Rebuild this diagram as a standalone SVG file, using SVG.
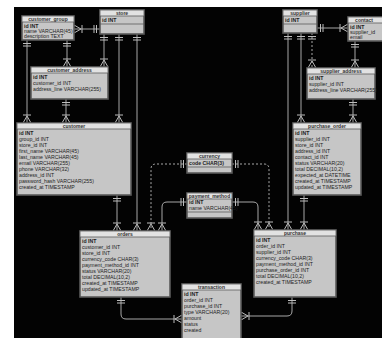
<svg xmlns="http://www.w3.org/2000/svg" width="382" height="338" viewBox="0 0 382 338">
<defs>
<style>
.tb{fill:#c6c6c6;stroke:#5a5a5a;stroke-width:1.6}
.hd{fill:#e2e2e2;stroke:#5a5a5a;stroke-width:0.8}
.tt{font-family:"Liberation Sans",Arial,sans-serif;font-size:5px;font-weight:bold;fill:#333;text-anchor:middle}
.rw{font-family:"Liberation Sans",Arial,sans-serif;font-size:5.2px;fill:#1e1e1e}
.pk{font-weight:bold}
.ln{fill:none;stroke:#a8a8a8;stroke-width:1}
.dash{stroke-dasharray:2 2}
</style>
<marker id="one" markerUnits="userSpaceOnUse" markerWidth="10" markerHeight="8" refX="10" refY="4" orient="auto-start-reverse">
<path d="M4,0V8M6.5,0V8" stroke="#bdbdbd" stroke-width="1" fill="none"/>
</marker>
<marker id="many" markerUnits="userSpaceOnUse" markerWidth="10" markerHeight="8" refX="10" refY="4" orient="auto-start-reverse">
<path d="M3,4L10,0M3,4L10,8M2,0V8" stroke="#bdbdbd" stroke-width="1" fill="none"/>
</marker>
</defs>
<rect x="0" y="0" width="382" height="338" fill="#fff"/>
<rect x="14" y="7" width="368" height="331" fill="#030303"/>

<g id="connectors">
<path class="ln" d="M74,29H100" marker-start="url(#many)" marker-end="url(#one)"/>
<path class="ln" d="M27,40V123" marker-start="url(#one)" marker-end="url(#many)"/>
<path class="ln" d="M67,40V67" marker-start="url(#one)" marker-end="url(#many)"/>
<path class="ln" d="M104,34V67" marker-start="url(#one)" marker-end="url(#many)"/>
<path class="ln" d="M119,34V123" marker-start="url(#one)" marker-end="url(#many)"/>
<path class="ln" d="M137,34V231" marker-start="url(#one)" marker-end="url(#many)"/>
<path class="ln" d="M66,99V123" marker-start="url(#one)" marker-end="url(#many)"/>
<path class="ln" d="M117,195V231" marker-start="url(#one)" marker-end="url(#many)"/>
<path class="ln dash" d="M187,164H156Q151,164 151,169V231" marker-start="url(#one)" marker-end="url(#many)"/>
<path class="ln" d="M187,202H167Q162,202 162,207V231" marker-start="url(#one)" marker-end="url(#many)"/>
<path class="ln" d="M121,297V314Q121,319 126,319H182" marker-start="url(#one)" marker-end="url(#many)"/>
<path class="ln" d="M317,28H348" marker-start="url(#one)" marker-end="url(#many)"/>
<path class="ln" d="M288,33V230" marker-start="url(#one)" marker-end="url(#many)"/>
<path class="ln" d="M301,33V123" marker-start="url(#one)" marker-end="url(#many)"/>
<path class="ln dash" d="M312,33V68" marker-start="url(#one)" marker-end="url(#many)"/>
<path class="ln" d="M355,41V68" marker-start="url(#one)" marker-end="url(#many)"/>
<path class="ln" d="M353,99V123" marker-start="url(#one)" marker-end="url(#many)"/>
<path class="ln" d="M304,195V230" marker-start="url(#one)" marker-end="url(#many)"/>
<path class="ln dash" d="M232,164H264Q269,164 269,169V230" marker-start="url(#one)" marker-end="url(#many)"/>
<path class="ln" d="M232,202H253Q258,202 258,207V230" marker-start="url(#one)" marker-end="url(#many)"/>
<path class="ln" d="M292,297V311Q292,316 287,316H241" marker-start="url(#one)" marker-end="url(#many)"/>
</g>

<g id="customer_group">
<rect class="tb" x="22" y="16" width="52" height="24"/>
<rect class="hd" x="22" y="16" width="52" height="6"/>
<text class="tt" x="48" y="20.8">customer_group</text>
<text class="rw pk" x="24" y="27.5">id INT</text>
<text class="rw" x="24" y="32.5">name VARCHAR(45)</text>
<text class="rw" x="24" y="37.5">description TEXT</text>
</g>

<g id="store">
<rect class="tb" x="100" y="10" width="44" height="24"/>
<rect class="hd" x="100" y="10" width="44" height="6"/>
<text class="tt" x="122" y="14.8">store</text>
<text class="rw pk" x="102" y="21.5">id INT</text>
<line x1="100" y1="24" x2="144" y2="24" stroke="#5a5a5a" stroke-width="0.8"/>
</g>

<g id="customer_address">
<rect class="tb" x="31" y="67" width="77" height="32"/>
<rect class="hd" x="31" y="67" width="77" height="6"/>
<text class="tt" x="69.5" y="71.8">customer_address</text>
<text class="rw pk" x="33" y="79">id INT</text>
<text class="rw" x="33" y="85">customer_id INT</text>
<text class="rw" x="33" y="91">address_line VARCHAR(255)</text>
</g>

<g id="customer">
<rect class="tb" x="17" y="123" width="114" height="72"/>
<rect class="hd" x="17" y="123" width="114" height="6"/>
<text class="tt" x="74" y="127.8">customer</text>
<text class="rw pk" x="19" y="135">id INT</text>
<text class="rw" x="19" y="141">group_id INT</text>
<text class="rw" x="19" y="147">store_id INT</text>
<text class="rw" x="19" y="153">first_name VARCHAR(45)</text>
<text class="rw" x="19" y="159">last_name VARCHAR(45)</text>
<text class="rw" x="19" y="165">email VARCHAR(255)</text>
<text class="rw" x="19" y="171">phone VARCHAR(32)</text>
<text class="rw" x="19" y="177">address_id INT</text>
<text class="rw" x="19" y="183">password_hash VARCHAR(255)</text>
<text class="rw" x="19" y="189">created_at TIMESTAMP</text>
</g>

<g id="currency">
<rect class="tb" x="187" y="153" width="45" height="20"/>
<rect class="hd" x="187" y="153" width="45" height="6"/>
<text class="tt" x="209.5" y="157.8">currency</text>
<text class="rw pk" x="189" y="164.5">code CHAR(3)</text>
<line x1="187" y1="167" x2="232" y2="167" stroke="#5a5a5a" stroke-width="0.8"/>
</g>

<g id="payment_method">
<rect class="tb" x="187" y="193" width="45" height="25"/>
<rect class="hd" x="187" y="193" width="45" height="6"/>
<text class="tt" x="209.5" y="197.8">payment_method</text>
<text class="rw pk" x="189" y="204">id INT</text>
<text class="rw" x="189" y="209.5">name VARCHAR(45)</text>
<line x1="187" y1="212" x2="232" y2="212" stroke="#5a5a5a" stroke-width="0.8"/>
</g>

<g id="orders">
<rect class="tb" x="80" y="231" width="90" height="66"/>
<rect class="hd" x="80" y="231" width="90" height="6"/>
<text class="tt" x="125" y="235.8">orders</text>
<text class="rw pk" x="82" y="243">id INT</text>
<text class="rw" x="82" y="249">customer_id INT</text>
<text class="rw" x="82" y="255">store_id INT</text>
<text class="rw" x="82" y="261">currency_code CHAR(3)</text>
<text class="rw" x="82" y="267">payment_method_id INT</text>
<text class="rw" x="82" y="273">status VARCHAR(20)</text>
<text class="rw" x="82" y="279">total DECIMAL(10,2)</text>
<text class="rw" x="82" y="285">created_at TIMESTAMP</text>
<text class="rw" x="82" y="291">updated_at TIMESTAMP</text>
</g>

<g id="transaction">
<rect class="tb" x="182" y="284" width="59" height="58"/>
<rect class="hd" x="182" y="284" width="59" height="6"/>
<text class="tt" x="211.5" y="288.8">transaction</text>
<text class="rw pk" x="184" y="296">id INT</text>
<text class="rw" x="184" y="302">order_id INT</text>
<text class="rw" x="184" y="308">purchase_id INT</text>
<text class="rw" x="184" y="314">type VARCHAR(20)</text>
<text class="rw" x="184" y="320">amount</text>
<text class="rw" x="184" y="326">status</text>
<text class="rw" x="184" y="332">created</text>
</g>

<g id="supplier">
<rect class="tb" x="283" y="10" width="34" height="23"/>
<rect class="hd" x="283" y="10" width="34" height="6"/>
<text class="tt" x="300" y="14.8">supplier</text>
<text class="rw pk" x="285" y="21.5">id INT</text>
<line x1="283" y1="24" x2="317" y2="24" stroke="#5a5a5a" stroke-width="0.8"/>
</g>

<g id="supplier_contact">
<rect class="tb" x="348" y="17" width="38" height="24"/>
<rect class="hd" x="348" y="17" width="38" height="6"/>
<text class="tt" x="364" y="21.8">contact</text>
<text class="rw pk" x="350" y="28.5">id INT</text>
<text class="rw" x="350" y="33.5">supplier_id</text>
<text class="rw" x="350" y="38.5">email</text>
</g>

<g id="supplier_address">
<rect class="tb" x="307" y="68" width="68" height="31"/>
<rect class="hd" x="307" y="68" width="68" height="6"/>
<text class="tt" x="341" y="72.8">supplier_address</text>
<text class="rw pk" x="309" y="80">id INT</text>
<text class="rw" x="309" y="86">supplier_id INT</text>
<text class="rw" x="309" y="92">address_line VARCHAR(255)</text>
</g>

<g id="purchase_order">
<rect class="tb" x="293" y="123" width="68" height="72"/>
<rect class="hd" x="293" y="123" width="68" height="6"/>
<text class="tt" x="327" y="127.8">purchase_order</text>
<text class="rw pk" x="295" y="135">id INT</text>
<text class="rw" x="295" y="141">supplier_id INT</text>
<text class="rw" x="295" y="147">store_id INT</text>
<text class="rw" x="295" y="153">address_id INT</text>
<text class="rw" x="295" y="159">contact_id INT</text>
<text class="rw" x="295" y="165">status VARCHAR(20)</text>
<text class="rw" x="295" y="171">total DECIMAL(10,2)</text>
<text class="rw" x="295" y="177">expected_at DATETIME</text>
<text class="rw" x="295" y="183">created_at TIMESTAMP</text>
<text class="rw" x="295" y="189">updated_at TIMESTAMP</text>
</g>

<g id="purchase">
<rect class="tb" x="254" y="230" width="82" height="67"/>
<rect class="hd" x="254" y="230" width="82" height="6"/>
<text class="tt" x="295" y="234.8">purchase</text>
<text class="rw pk" x="256" y="242">id INT</text>
<text class="rw" x="256" y="248">order_id INT</text>
<text class="rw" x="256" y="254">supplier_id INT</text>
<text class="rw" x="256" y="260">currency_code CHAR(3)</text>
<text class="rw" x="256" y="266">payment_method_id INT</text>
<text class="rw" x="256" y="272">purchase_order_id INT</text>
<text class="rw" x="256" y="278">total DECIMAL(10,2)</text>
<text class="rw" x="256" y="284">created_at TIMESTAMP</text>
</g>
</svg>
